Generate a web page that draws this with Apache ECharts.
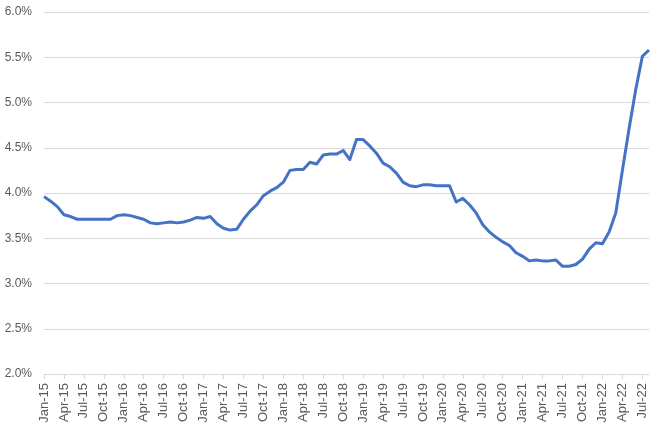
<!DOCTYPE html>
<html>
<head>
<meta charset="utf-8">
<script src="https://cdn.jsdelivr.net/npm/echarts@6/dist/echarts.min.js"></script>
<style>html,body{margin:0;padding:0;background:#fff}#c{width:656px;height:436px}</style>
</head>
<body>
<div id="c"></div>
<script>
const months = ['Jan','Feb','Mar','Apr','May','Jun','Jul','Aug','Sep','Oct','Nov','Dec'];
const categories = [];
for (let y = 15; y <= 22; y++) {
  for (let m = 0; m < 12; m++) {
    if (y === 22 && m > 7) break;
    categories.push(months[m] + '-' + y);
  }
}
const values = [
  3.96, 3.91, 3.85, 3.76, 3.74, 3.71, 3.71, 3.71, 3.71, 3.71, 3.71, 3.75,
  3.76, 3.75, 3.73, 3.71, 3.67, 3.66, 3.67, 3.68, 3.67, 3.68, 3.70, 3.73,
  3.72, 3.74, 3.66, 3.61, 3.59, 3.60, 3.71, 3.80, 3.87, 3.97, 4.02, 4.06,
  4.12, 4.25, 4.26, 4.26, 4.34, 4.32, 4.42, 4.43, 4.43, 4.47, 4.37, 4.59,
  4.59, 4.52, 4.44, 4.33, 4.29, 4.22, 4.12, 4.08, 4.07, 4.09, 4.09, 4.08,
  4.08, 4.08, 3.90, 3.94, 3.87, 3.78, 3.65, 3.57, 3.51, 3.46, 3.42, 3.34,
  3.30, 3.25, 3.26, 3.25, 3.25, 3.26, 3.19, 3.19, 3.21, 3.27, 3.38, 3.45,
  3.44, 3.57, 3.78, 4.25, 4.71, 5.14, 5.51, 5.58
];
const chart = echarts.init(document.getElementById('c'));
chart.setOption({
  animation: false,
  grid: { left: 44, right: 7, top: 12, bottom: 62, containLabel: false },
  xAxis: {
    type: 'category',
    data: categories,
    boundaryGap: false,
    axisLine: { lineStyle: { color: '#d9d9d9', width: 1 } },
    axisTick: { show: true, interval: 2, length: 5, lineStyle: { color: '#d9d9d9' } },
    axisLabel: {
      interval: 2, rotate: 90, margin: 9,
      color: '#595959', fontSize: 13, fontFamily: 'Liberation Sans, Arial, sans-serif'
    },
    splitLine: { show: false }
  },
  yAxis: {
    type: 'value',
    min: 2, max: 6, interval: 0.5,
    axisLine: { show: false },
    axisTick: { show: false },
    axisLabel: {
      margin: 12,
      color: '#595959', fontSize: 12, fontFamily: 'Liberation Sans, Arial, sans-serif',
      formatter: v => v.toFixed(1) + '%'
    },
    splitLine: { lineStyle: { color: '#d9d9d9', width: 1 } }
  },
  series: [{
    type: 'line',
    data: values,
    showSymbol: false,
    symbol: 'none',
    lineStyle: { color: '#4472C4', width: 3, join: 'round' },
    itemStyle: { color: '#4472C4' }
  }]
});
</script>
</body>
</html>
